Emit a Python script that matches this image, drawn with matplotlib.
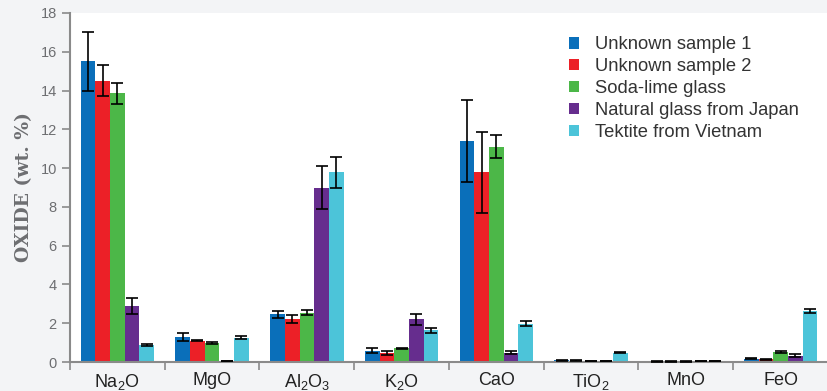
import numpy as np
import matplotlib.pyplot as plt

plt.rcParams['font.family'] = ['Liberation Sans', 'DejaVu Sans']
plt.rcParams['mathtext.fontset'] = 'custom'
plt.rcParams['mathtext.rm'] = 'Liberation Sans'
plt.rcParams['mathtext.it'] = 'Liberation Sans'

oxides = ['Na$_2$O', 'MgO', 'Al$_2$O$_3$', 'K$_2$O', 'CaO', 'TiO$_2$', 'MnO', 'FeO']
series = ['Unknown sample 1', 'Unknown sample 2', 'Soda-lime glass',
          'Natural glass from Japan', 'Tektite from Vietnam']

unknown1 = [15.5, 1.3, 2.45, 0.58, 11.4, 0.08, 0.02, 0.18]
unknown1_err = [1.5, 0.22, 0.2, 0.12, 2.1, 0.02, 0.01, 0.02]
unknown2 = [14.5, 1.1, 2.2, 0.47, 9.78, 0.07, 0.02, 0.14]
unknown2_err = [0.8, 0.02, 0.2, 0.12, 2.1, 0.02, 0.01, 0.02]
sodalime = [13.85, 1.0, 2.55, 0.7, 11.1, 0.04, 0.02, 0.53]
sodalime_err = [0.55, 0.05, 0.12, 0.04, 0.6, 0.01, 0.01, 0.05]
japan = [2.9, 0.05, 9.0, 2.2, 0.47, 0.05, 0.05, 0.33]
japan_err = [0.4, 0.02, 1.1, 0.28, 0.08, 0.02, 0.01, 0.06]
tektite = [0.88, 1.25, 9.78, 1.63, 1.97, 0.48, 0.05, 2.65]
tektite_err = [0.07, 0.07, 0.78, 0.12, 0.12, 0.01, 0.01, 0.1]

values = [unknown1, unknown2, sodalime, japan, tektite]
errors = [unknown1_err, unknown2_err, sodalime_err, japan_err, tektite_err]
colors = ['#0a6fba', '#ec2027', '#4cb748', '#662d8e', '#4cc4d9']

fig = plt.figure(figsize=(8.28, 3.91), dpi=100, facecolor='#f3f4f6')
ax = fig.add_axes([70/828, 1-362/391, 1-70/828, (362-13)/391])
ax.set_facecolor('white')

x = np.arange(len(oxides))
w = 0.155
for i in range(5):
    pos = x + (i - 2) * w
    ax.bar(pos, values[i], w, color=colors[i], label=series[i], zorder=2)
    ax.errorbar(pos, values[i], yerr=errors[i], fmt='none', ecolor='black',
                elinewidth=1.2, capsize=4.5, capthick=1.2, zorder=3)

ax.set_xlim(-0.5, 7.5)
ax.set_ylim(0, 18)
ax.set_yticks(range(0, 19, 2))
ax.set_xticks(x)
ax.set_xticklabels(oxides, fontsize=13, color='#222222')
ax.set_xticks(np.arange(-0.5, 8, 1), minor=True)
ax.tick_params(axis='x', which='major', length=0, pad=7)
ax.tick_params(axis='x', which='minor', length=6, width=1.2, color='#8a8a8a', direction='out')
ax.tick_params(axis='y', length=6, width=1.2, color='#8a8a8a', labelsize=10.5, labelcolor='#6d6e71')

for s in ['top', 'right']:
    ax.spines[s].set_visible(False)
for s in ['left', 'bottom']:
    ax.spines[s].set_color('#8a8a8a')
    ax.spines[s].set_linewidth(1.5)

ax.set_ylabel('OXIDE (wt. %)', family='DejaVu Serif', fontweight='bold',
              fontsize=13.5, color='#6d6e71', labelpad=5)

leg = ax.legend(loc='upper left', bbox_to_anchor=(0.637, 0.98), frameon=False,
                fontsize=13.2, handlelength=0.55, handleheight=0.55, handletextpad=0.85,
                labelspacing=0.27, labelcolor='#333333')

fig.savefig('out.png', dpi=100, facecolor=fig.get_facecolor())
